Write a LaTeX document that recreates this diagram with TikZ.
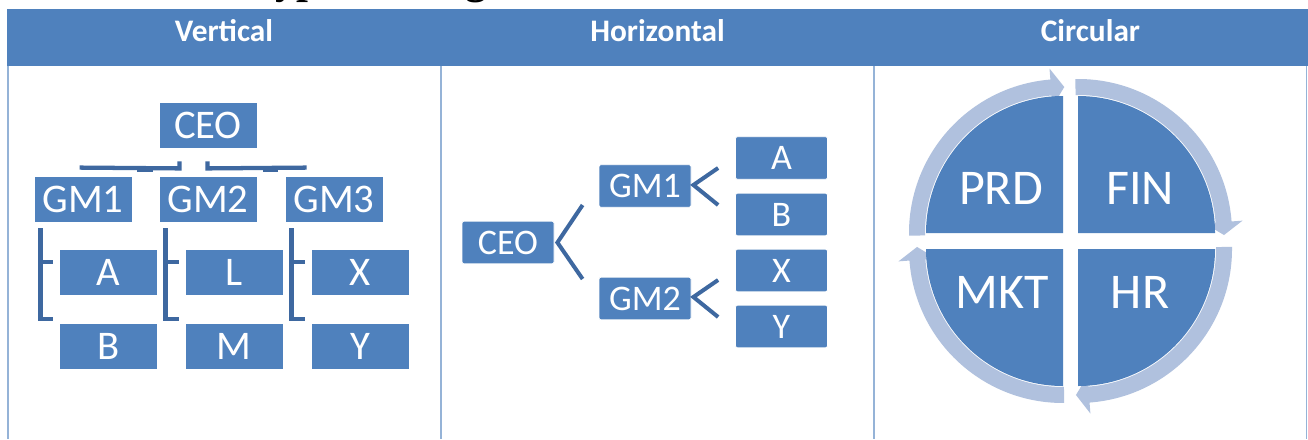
\documentclass[tikz,border=0pt]{standalone}
\usepackage{fontspec}
\setmainfont{Carlito}
\newfontfamily\headingserif{Liberation Serif}
\usetikzlibrary{calc}

\definecolor{hdrblue}{RGB}{79,129,189}
\definecolor{gridblue}{RGB}{149,179,215}
\definecolor{boxblue}{RGB}{79,129,189}
\definecolor{linkblue}{RGB}{62,104,160}
\definecolor{ringblue}{RGB}{176,193,222}

% one curved arrow of the cycle: band around corner #1 from angle #2 to #3, tip at angle #4
\newcommand\cyclearrow[4]{%
  \fill[ringblue] ($(#1)+(#2:138)$) arc[start angle=#2, end angle=#3, radius=138]
    -- ($(#1)+(#3:127)$) -- ($(#1)+(#4:146)$) -- ($(#1)+(#3:165)$)
    -- ($(#1)+(#3:154)$) arc[start angle=#3, end angle=#2, radius=154] -- cycle;}

\begin{document}
\begin{tikzpicture}[x=0.75pt, y=-0.75pt,
  hdr/.style={text=white, inner sep=0pt, anchor=base,
    font=\bfseries\fontsize{23.5}{23.5}\selectfont},
  vbox/.style={draw=white, line width=0.6pt, fill=boxblue, text=white,
    inner sep=0pt, minimum width=73.5pt, minimum height=34.5pt,
    font=\fontsize{30.5}{30.5}\selectfont},
  hbox/.style={draw=white, line width=0.6pt, fill=boxblue, text=white,
    rounded corners=1.5pt, inner sep=0pt, minimum width=69pt, minimum height=32pt,
    font=\fontsize{27}{27}\selectfont},
  vlink/.style={draw=linkblue, line width=3.2pt, line join=miter},
  hlink/.style={draw=linkblue, line width=3pt, line join=miter},
  quadlabel/.style={text=white, inner sep=0pt, anchor=base,
    font=\fontsize{37.5}{37.5}\selectfont}]

\path[use as bounding box, fill=white] (0,0) rectangle (1308,439);
\clip (0,0) rectangle (1308,439);

% heading line of the page above the table
\node[anchor=base west, inner sep=0pt,
  font=\headingserif\bfseries\fontsize{32}{32}\selectfont] (pagetitle) at (250,-6.5) {Types of Organization};

% table header and column rules
\fill[hdrblue] (7,9) rectangle (1308,66);
\foreach \gx in {7.8,441,873.8,1306.5}
  \draw[gridblue, line width=1.1pt] (\gx,66) -- (\gx,439);
\node[hdr] (hv) at (224,41.7) {Vertical};
\node[hdr] (hh) at (657.5,41.7) {Horizontal};
\node[hdr] (hc) at (1090.5,41.7) {Circular};

% ---------- vertical chart ----------
\node[vbox] (vceo) at (208,125) {CEO};
\node[vbox] (vgm1) at (83,199) {GM1};
\node[vbox] (vgm2) at (208,199) {GM2};
\node[vbox] (vgm3) at (334,199) {GM3};
\node[vbox] (va) at (108.5,272.5) {A};
\node[vbox] (vb) at (108.5,346.5) {B};
\node[vbox] (vl) at (234,272.5) {L};
\node[vbox] (vm) at (234,346.5) {M};
\node[vbox] (vx) at (360,272.5) {X};
\node[vbox] (vy) at (360,346.5) {Y};

% CEO to general managers
\draw[vlink] ($(vgm1.north west)+(46,-8)$) -- ($(vceo.south)+(-28.5,20)$) -- ($(vceo.south)+(-28.5,13)$);
\draw[vlink] ($(vceo.south)+(-0.5,13)$) -- ($(vceo.south)+(-0.5,20)$) -- ($(vgm3.north west)+(22,-8)$);
\fill[linkblue] (137,168) rectangle (153,171.5);
\fill[linkblue] (263,168) rectangle (278,171.5);

% brackets from each manager to its two units
\foreach \g/\u in {vgm1/va, vgm2/vl, vgm3/vx}{
  \fill[linkblue] ($(\g.south west)+(4,6)$) rectangle ($(\g.south west)+(9,98.5)$);
  \fill[linkblue] ($(\g.south west)+(9,37.5)$) rectangle ($(\u.west)+(-6,-9)$);
  \fill[linkblue] ($(\g.south west)+(9,94.5)$) rectangle ($(\u.west)+(-6,48)$);
}

% ---------- horizontal chart ----------
\node[hbox] (hceo) at (508,242.5) {CEO};
\node[hbox] (hgm1) at (645,186) {GM1};
\node[hbox] (hgm2) at (645,298.5) {GM2};
\node[hbox] (ha) at (781.5,158) {A};
\node[hbox] (hb) at (781.5,214.5) {B};
\node[hbox] (hx) at (781.5,270.5) {X};
\node[hbox] (hy) at (781.5,326.5) {Y};

\draw[hlink] ($(hgm1.west)+(-16,19)$) -- ($(hceo.east)+(3,0)$) -- ($(hgm2.west)+(-16,-19.5)$);
\draw[hlink] ($(ha.west)+(-17,10)$) -- ($(hgm1.east)+(2,-1)$) -- ($(hb.west)+(-17,-9.5)$);
\draw[hlink] ($(hx.west)+(-17,9.5)$) -- ($(hgm2.east)+(2,-1.5)$) -- ($(hy.west)+(-17,-9.5)$);

% ---------- circular chart ----------
\coordinate (cprd) at (1063,233);
\coordinate (cfin) at (1078,233);
\coordinate (chr)  at (1078,249);
\coordinate (cmkt) at (1063,249);

\cyclearrow{cprd}{179}{265.3}{270.5}
\cyclearrow{cfin}{269}{355.7}{360.8}
\cyclearrow{chr}{-0.8}{85.7}{90.8}
\cyclearrow{cmkt}{89.6}{175.7}{180.8}

\fill[boxblue] (cprd) -- ($(cprd)+(180:137)$) arc[start angle=180, end angle=270, radius=137] -- cycle;
\fill[boxblue] (cfin) -- ($(cfin)+(270:137)$) arc[start angle=270, end angle=360, radius=137] -- cycle;
\fill[boxblue] (chr) -- ($(chr)+(0:137)$) arc[start angle=0, end angle=90, radius=137] -- cycle;
\fill[boxblue] (cmkt) -- ($(cmkt)+(90:137)$) arc[start angle=90, end angle=180, radius=137] -- cycle;

\node[quadlabel] (prd) at (1001,204) {PRD};
\node[quadlabel] (fin) at (1140,204) {FIN};
\node[quadlabel] (mkt) at (1002,308) {MKT};
\node[quadlabel] (hr)  at (1140,308) {HR};

\end{tikzpicture}
\end{document}
